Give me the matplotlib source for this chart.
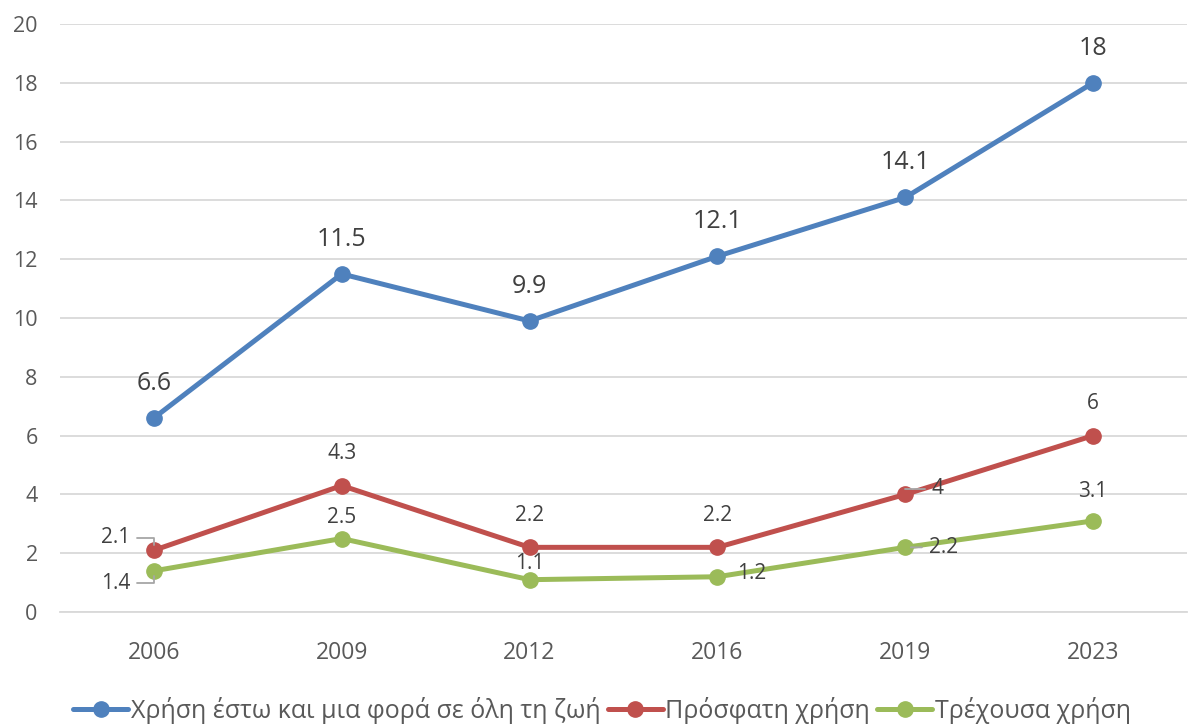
import matplotlib.pyplot as plt

plt.rcParams['font.family'] = ['Open Sans', 'DejaVu Sans']

years = ["2006", "2009", "2012", "2016", "2019", "2023"]
lifetime = [6.6, 11.5, 9.9, 12.1, 14.1, 18]
recent = [2.1, 4.3, 2.2, 2.2, 4, 6]
current = [1.4, 2.5, 1.1, 1.2, 2.2, 3.1]
names = ["Χρήση έστω και μια φορά σε όλη τη ζωή", "Πρόσφατη χρήση", "Τρέχουσα χρήση"]
colors = ["#4F81BD", "#C0504D", "#9BBB59"]

# label offsets in points (dx, dy) per point
off_life = [(0, 25)] * 6
off_recent = [(-17, 9), (0, 23), (0, 23), (0, 23), (19, 4), (0, 23)]
off_current = [(-17, -9), (0, 15), (0, 12), (14, 2), (17, 0), (0, 21)]
leader_recent = [True, False, False, False, True, False]
leader_current = [True, False, False, False, True, False]

fig = plt.figure(figsize=(11.92, 7.28), dpi=100)
ax = fig.add_axes([0.0503, 0.1593, 0.9455, 0.8077])

x = list(range(len(years)))
for vals, name, c in zip([lifetime, recent, current], names, colors):
    ax.plot(x, vals, color=c, lw=3.6, marker="o", ms=11, label=name,
            solid_capstyle="round", zorder=3)

for i, v in enumerate(lifetime):
    ax.annotate(f"{v:g}", (i, v), xytext=off_life[i], textcoords="offset points",
                ha="center", va="center", fontsize=18, color="#404040")

for vals, offs, leads in [(recent, off_recent, leader_recent),
                          (current, off_current, leader_current)]:
    for i, v in enumerate(vals):
        dx, dy = offs[i]
        ha = "center"
        if dx > 0:
            ha = "left"
        elif dx < 0:
            ha = "right"
        leader = None
        if leads[i]:
            conn = "arc3" if dy == 0 else "angle,angleA=0,angleB=90,rad=0"
            leader = dict(arrowstyle="-", color="#A6A6A6", lw=1.3,
                          shrinkA=3, shrinkB=4, connectionstyle=conn)
        ax.annotate(f"{v:g}", (i, v), xytext=(dx, dy), textcoords="offset points",
                    ha=ha, va="center", fontsize=15, color="#404040",
                    arrowprops=leader)

ax.set_xlim(-0.5, len(years) - 0.5)
ax.set_ylim(0, 20)
ax.set_yticks(range(0, 21, 2))
ax.set_xticks(x)
ax.set_xticklabels(years)
ax.tick_params(axis="x", length=0, labelsize=16.5, colors="#595959", pad=21)
ax.tick_params(axis="y", length=0, labelsize=15.5, colors="#595959", pad=16)
ax.grid(axis="y", color="#D9D9D9", lw=1.3)
ax.set_axisbelow(True)
for s in ["top", "right", "left"]:
    ax.spines[s].set_visible(False)
ax.spines["bottom"].set_color("#D9D9D9")
ax.spines["bottom"].set_linewidth(1.3)

fig.legend(loc="lower center", bbox_to_anchor=(0.505, -0.025), ncol=3, frameon=False,
           fontsize=18, handlelength=2.2, handletextpad=0.1, columnspacing=0.3,
           labelcolor="#595959")

plt.savefig("out.png", dpi=100)
plt.close()
